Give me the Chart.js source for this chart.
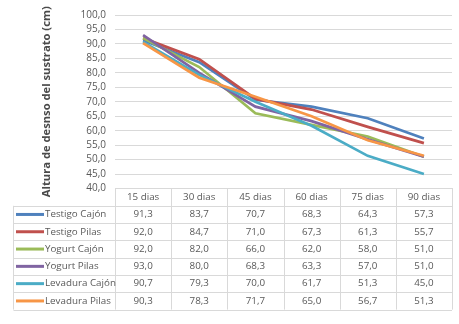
<!DOCTYPE html>
<html>
<head>
<meta charset="utf-8">
<script src="https://cdn.jsdelivr.net/npm/chart.js@4"></script>
<style>
  html, body { margin: 0; padding: 0; background: #fff; }
  #wrap { width: 459px; height: 324px; }
</style>
</head>
<body>
<div id="wrap"><canvas id="lineChart" width="459" height="324"></canvas></div>
<script>
// Chart data
const days = ['15 dias', '30 dias', '45 dias', '60 dias', '75 dias', '90 dias'];
const seriesNames = [
  'Testigo Cajón', 'Testigo Pilas', 'Yogurt Cajón',
  'Yogurt Pilas', 'Levadura Cajón', 'Levadura Pilas'
];
const testigoCajon = [91.3, 83.7, 70.7, 68.3, 64.3, 57.3];
const testigoPilas = [92.0, 84.7, 71.0, 67.3, 61.3, 55.7];
const yogurtCajon = [92.0, 82.0, 66.0, 62.0, 58.0, 51.0];
const yogurtPilas = [93.0, 80.0, 68.3, 63.3, 57.0, 51.0];
const levaduraCajon = [90.7, 79.3, 70.0, 61.7, 51.3, 45.0];
const levaduraPilas = [90.3, 78.3, 71.7, 65.0, 56.7, 51.3];
const seriesValues = [
  testigoCajon, testigoPilas, yogurtCajon, yogurtPilas, levaduraCajon, levaduraPilas
];
const colors = ['#4F81BD', '#C0504D', '#9BBB59', '#8064A2', '#4BACC6', '#F79646'];

const fmt = v => v.toFixed(1).replace('.', ',');
const textColor = '#595959';
const lineColor = '#D9D9D9';
const fontFamily = "'Open Sans', 'Noto Sans', sans-serif";

// Excel-style data table drawn under the plot, columns taken from the x scale
const dataTable = {
  id: 'dataTable',
  afterDraw(chart) {
    const {ctx, chartArea, scales: {x}} = chart;
    const top = chartArea.bottom;
    const rowH = 17.3;
    const colW = (chartArea.right - chartArea.left) / days.length;
    const legendLeft = 13.5;
    const bottom = top + rowH * (seriesNames.length + 1);

    ctx.save();
    ctx.strokeStyle = lineColor;
    ctx.lineWidth = 1;
    ctx.beginPath();
    // vertical lines of value columns
    for (let i = 0; i <= days.length; i++) {
      const xx = Math.round(chartArea.left + colW * i) + 0.5;
      ctx.moveTo(xx, top);
      ctx.lineTo(xx, bottom);
    }
    // left border of legend column
    ctx.moveTo(legendLeft, top + rowH);
    ctx.lineTo(legendLeft, bottom);
    // horizontal lines
    for (let r = 1; r <= seriesNames.length + 1; r++) {
      const yy = Math.round(top + rowH * r) + 0.5;
      ctx.moveTo(legendLeft, yy);
      ctx.lineTo(chartArea.right, yy);
    }
    ctx.stroke();

    ctx.font = '9.8px ' + fontFamily;
    ctx.fillStyle = textColor;
    ctx.textBaseline = 'middle';
    ctx.textAlign = 'center';
    days.forEach((d, i) => {
      ctx.fillText(d, x.getPixelForValue(i), top + rowH / 2);
    });

    seriesNames.forEach((name, r) => {
      const cy = top + rowH * (r + 1.5);
      ctx.strokeStyle = colors[r];
      ctx.lineWidth = 3;
      ctx.beginPath();
      ctx.moveTo(16, cy);
      ctx.lineTo(44, cy);
      ctx.stroke();
      ctx.fillStyle = textColor;
      ctx.textAlign = 'left';
      ctx.fillText(name, 45, cy);
      ctx.textAlign = 'center';
      seriesValues[r].forEach((v, i) => {
        ctx.fillText(fmt(v), x.getPixelForValue(i), cy);
      });
    });
    ctx.restore();
  }
};

const ctx = document.getElementById('lineChart').getContext('2d');
new Chart(ctx, {
  type: 'line',
  data: {
    labels: days,
    datasets: seriesNames.map((name, i) => ({
      label: name,
      data: seriesValues[i],
      borderColor: colors[i],
      backgroundColor: colors[i],
      borderWidth: 2.7,
      pointRadius: 0,
      tension: 0,
      order: seriesNames.length - i
    }))
  },
  options: {
    responsive: false,
    animation: false,
    layout: {padding: {left: 0, top: 7, right: 7, bottom: 127.5}},
    plugins: {legend: {display: false}, tooltip: {enabled: false}},
    scales: {
      x: {
        offset: true,
        grid: {display: false},
        border: {display: true, color: lineColor},
        ticks: {display: false}
      },
      y: {
        min: 40,
        max: 100,
        afterFit(scale) { scale.width = 115; },
        ticks: {
          stepSize: 5,
          autoSkip: false,
          padding: 9,
          color: textColor,
          font: {family: fontFamily, size: 10},
          callback: v => fmt(v)
        },
        grid: {color: lineColor, drawTicks: false},
        border: {display: false},
        title: {
          display: true,
          text: 'Altura de desnso del sustrato (cm)',
          color: '#4a4a4a',
          font: {family: fontFamily, size: 11.2, weight: 'bold'},
          padding: {top: 40, bottom: 0}
        }
      }
    }
  },
  plugins: [dataTable]
});
</script>
</body>
</html>
